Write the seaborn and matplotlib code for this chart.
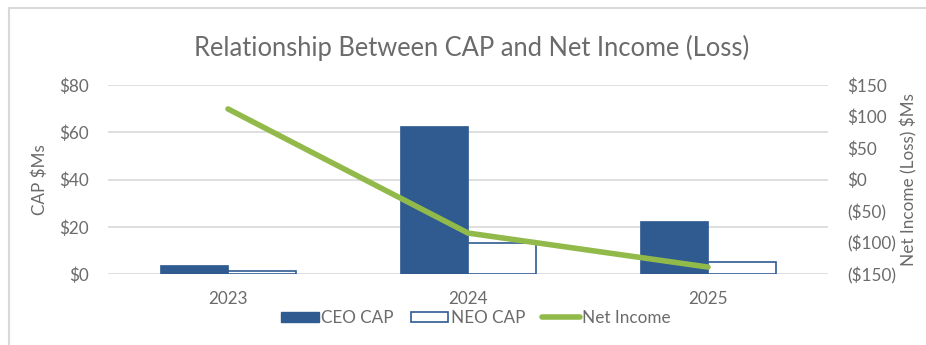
import matplotlib
matplotlib.use("Agg")
import matplotlib.pyplot as plt
import seaborn as sns
import pandas as pd
from matplotlib.patches import Patch
from matplotlib.lines import Line2D

years = ["2023", "2024", "2025"]
ceo_cap = [3.8, 62.6, 22.4]
neo_cap = [1.3, 13.1, 5.1]
net_income = [112, -85, -139]
left_ticks = [0, 20, 40, 60, 80]
left_labels = ["$0", "$20", "$40", "$60", "$80"]
right_ticks = [-150, -100, -50, 0, 50, 100, 150]
right_labels = ["($150)", "($100)", "($50)", "$0", "$50", "$100", "$150"]

BLUE = "#2F5B91"
GREEN = "#92BA4A"
TXT = "#6B6B6B"
GRID = "#D9D9D9"
FS = 12.3

sns.set_theme(style="white")
plt.rcParams["font.family"] = ["Lato", "DejaVu Sans"]

df = pd.DataFrame({
    "year": years * 2,
    "value": ceo_cap + neo_cap,
    "series": ["CEO CAP"] * 3 + ["NEO CAP"] * 3,
})

fig = plt.figure(figsize=(9.26, 3.45), dpi=100)
ax = fig.add_axes([108 / 926, 1 - 274 / 345, 720 / 926, 189 / 345])

sns.barplot(data=df, x="year", y="value", hue="series", order=years,
            hue_order=["CEO CAP", "NEO CAP"], palette=[BLUE, BLUE],
            width=0.567, ax=ax, legend=False, saturation=1, errorbar=None)
n = len(years)
for i, p in enumerate(ax.patches[:2 * n]):
    if i >= n:
        p.set_facecolor("white")
        p.set_edgecolor(BLUE)
        p.set_linewidth(1.2)
    else:
        p.set_edgecolor(BLUE)
        p.set_linewidth(0.5)

ax.set_xlim(-0.5, 2.5)
ax.set_ylim(0, 80)
ax.set_yticks(left_ticks)
ax.set_yticklabels(left_labels)
ax.yaxis.grid(True, color=GRID, linewidth=1.2)
ax.set_axisbelow(True)
for s in ax.spines.values():
    s.set_visible(False)
ax.tick_params(axis="both", length=0, colors=TXT, labelsize=FS)
ax.tick_params(axis="x", pad=12)
ax.tick_params(axis="y", pad=14)
ax.set_xlabel("")
ax.set_ylabel("CAP $Ms", color=TXT, fontsize=FS, labelpad=8)

ax2 = ax.twinx()
line_df = pd.DataFrame({"x": list(range(n)), "ni": net_income})
sns.lineplot(data=line_df, x="x", y="ni", color=GREEN, linewidth=4, ax=ax2)
ax2.set_ylim(-150, 150)
ax2.set_yticks(right_ticks)
ax2.set_yticklabels(right_labels)
ax2.set_xlim(-0.5, 2.5)
for s in ax2.spines.values():
    s.set_visible(False)
ax2.tick_params(axis="y", length=0, colors=TXT, labelsize=FS, pad=14)
ax2.set_ylabel("Net Income (Loss) $Ms", color=TXT, fontsize=FS, labelpad=3)
ax2.set_xlabel("")

fig.text(472 / 926, 1 - 48 / 345, "Relationship Between CAP and Net Income (Loss)",
         ha="center", va="center", color=TXT, fontsize=18.4)

handles = [
    Patch(facecolor=BLUE, edgecolor=BLUE),
    Patch(facecolor="white", edgecolor=BLUE, linewidth=1.2),
    Line2D([0], [0], color=GREEN, linewidth=4),
]
fig.legend(handles, ["CEO CAP", "NEO CAP", "Net Income"], loc="center",
           bbox_to_anchor=(476 / 926, 1 - 318 / 345), ncol=3, frameon=False,
           fontsize=FS, labelcolor=TXT, handlelength=2.2, handleheight=0.6,
           handletextpad=0.15, columnspacing=1.0)

fig.add_artist(Line2D([8.5 / 926, 8.5 / 926], [0, 1 - 8 / 345], color="#D9D9D9", linewidth=1.5))
fig.add_artist(Line2D([8.5 / 926, 1], [1 - 8 / 345, 1 - 8 / 345], color="#D9D9D9", linewidth=1.5))

fig.savefig("out.png", dpi=100)
